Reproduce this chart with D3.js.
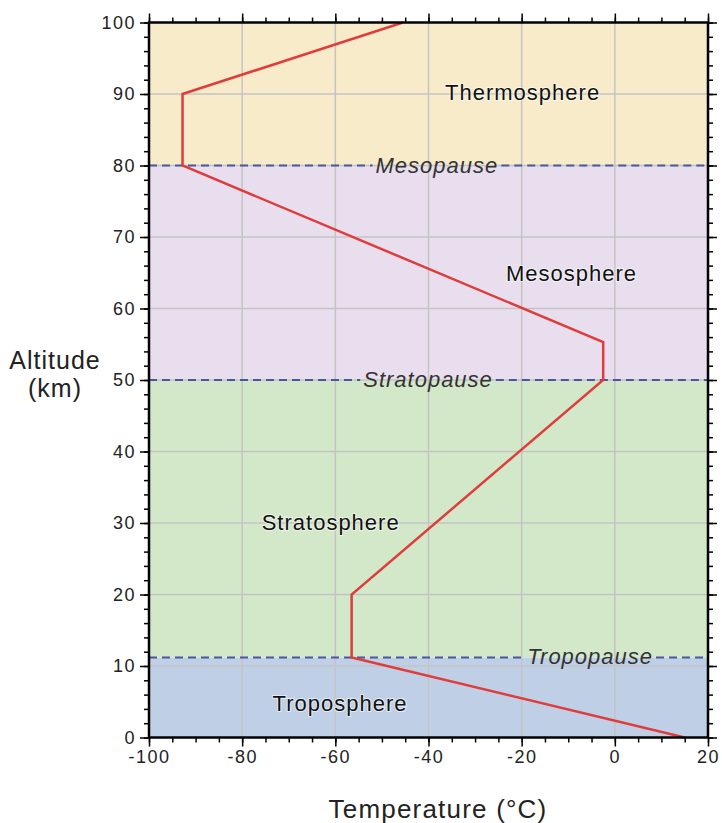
<!DOCTYPE html>
<html>
<head>
<meta charset="utf-8">
<script src="https://cdn.jsdelivr.net/npm/d3@7"></script>
<style>
  body { margin: 0; background: #fff; }
  text { font-family: "Liberation Sans", Arial, sans-serif; }
</style>
</head>
<body>
<svg width="722" height="823"></svg>
<script>
// layers
const layerNames = ['Troposphere', 'Stratosphere', 'Mesosphere', 'Thermosphere'];
const layerBottoms = [0, 11.2, 50, 80];
const layerTops = [11.2, 50, 80, 100];
const layerColors = ['#bfd0e6', '#d3e8c9', '#e8deee', '#f8ebca'];
const layerLabelT = [-59, -61, -9.3, -19.8];
const layerLabelZ = [4.8, 30.1, 65.0, 90.3];

// boundaries
const pauseNames = ['Tropopause', 'Stratopause', 'Mesopause'];
const pauseAlt = [11.2, 50, 80];
const pauseLabelT = [-5.3, -40.1, -38.2];

// temperature profile
const profileT = [15, -56.5, -56.5, -2.5, -2.5, -92.8, -92.8, -45.5];
const profileZ = [0, 11.2, 20, 50, 55.3, 80, 90, 100];

const xTicks = [-100, -80, -60, -40, -20, 0, 20];
const yTicks = [0, 10, 20, 30, 40, 50, 60, 70, 80, 90, 100];

const svg = d3.select('svg');
const mLeft = 149, mRight = 708, mTop = 22.5, mBottom = 737.5;

const x = d3.scaleLinear().domain([-100, 20]).range([mLeft, mRight]);
const y = d3.scaleLinear().domain([0, 100]).range([mBottom, mTop]);

// background bands
svg.selectAll('rect.layer')
  .data(layerNames)
  .enter().append('rect')
    .attr('x', x(-100))
    .attr('width', x(20) - x(-100))
    .attr('y', (d, i) => y(layerTops[i]))
    .attr('height', (d, i) => y(layerBottoms[i]) - y(layerTops[i]))
    .attr('fill', (d, i) => layerColors[i]);

// grid
svg.selectAll('line.gx')
  .data(xTicks.slice(1, -1))
  .enter().append('line')
    .attr('x1', d => x(d)).attr('x2', d => x(d))
    .attr('y1', mTop).attr('y2', mBottom)
    .attr('stroke', '#c4c4c4').attr('stroke-width', 1.5);
svg.selectAll('line.gy')
  .data(yTicks.slice(1, -1))
  .enter().append('line')
    .attr('y1', d => y(d)).attr('y2', d => y(d))
    .attr('x1', mLeft).attr('x2', mRight)
    .attr('stroke', '#c4c4c4').attr('stroke-width', 1.5);

// pause labels + dashed lines with gap round the label
pauseNames.forEach(function(name, i) {
  const yy = y(pauseAlt[i]);
  const t = svg.append('text')
    .attr('x', x(pauseLabelT[i]))
    .attr('y', yy + 7)
    .attr('text-anchor', 'middle')
    .attr('font-size', 22)
    .attr('letter-spacing', 1)
    .attr('font-style', 'italic')
    .attr('fill', '#333')
    .text(name);
  const bb = t.node().getBBox();
  [[mLeft, bb.x - 3], [bb.x + bb.width + 3, mRight]].forEach(function(seg) {
    svg.insert('line', 'text')
      .attr('x1', seg[0]).attr('x2', seg[1])
      .attr('y1', yy).attr('y2', yy)
      .attr('stroke', '#4a56a0')
      .attr('stroke-width', 2)
      .attr('stroke-dasharray', '8,5');
  });
});

// layer labels
svg.selectAll('text.layer')
  .data(layerNames)
  .enter().append('text')
    .attr('x', (d, i) => x(layerLabelT[i]))
    .attr('y', (d, i) => y(layerLabelZ[i]) + 8)
    .attr('text-anchor', 'middle')
    .attr('font-size', 22)
    .attr('letter-spacing', 1)
    .attr('fill', '#111')
    .style('paint-order', 'stroke')
    .attr('stroke', 'rgba(255,255,255,0.6)')
    .attr('stroke-width', 2)
    .text(d => d);

// profile
const line = d3.line()
  .x(d => x(profileT[d]))
  .y(d => y(profileZ[d]));
svg.append('path')
  .attr('d', line(d3.range(profileT.length)))
  .attr('fill', 'none')
  .attr('stroke', '#e03c3c')
  .attr('stroke-width', 2.5)
  .attr('stroke-linejoin', 'miter');

// axes
function styleAxis(g) {
  g.select('.domain').remove();
  g.selectAll('.tick line').attr('stroke', '#000').attr('stroke-width', 1.5);
  g.selectAll('text').attr('font-size', 18).attr('fill', '#222')
    .attr('letter-spacing', 1.5)
    .style('font-family', '"Liberation Sans", Arial, sans-serif');
}
const xMinor = d3.range(-100, 21, 5);
const yMinor = d3.range(0, 101, 2);
const fmt = d => String(d);

svg.append('g').attr('transform', `translate(0,${mBottom})`)
  .call(d3.axisBottom(x).tickValues(xMinor).tickSize(5).tickFormat(''))
  .call(styleAxis);
svg.append('g').attr('transform', `translate(0,${mBottom})`)
  .call(d3.axisBottom(x).tickValues(xTicks).tickSize(9).tickPadding(4).tickFormat(fmt))
  .call(styleAxis);
svg.append('g').attr('transform', `translate(0,${mTop})`)
  .call(d3.axisTop(x).tickValues(xMinor).tickSize(5).tickFormat(''))
  .call(styleAxis);
svg.append('g').attr('transform', `translate(0,${mTop})`)
  .call(d3.axisTop(x).tickValues(xTicks).tickSize(9).tickFormat(''))
  .call(styleAxis);
svg.append('g').attr('transform', `translate(${mLeft},0)`)
  .call(d3.axisLeft(y).tickValues(yMinor).tickSize(5).tickFormat(''))
  .call(styleAxis);
svg.append('g').attr('transform', `translate(${mLeft},0)`)
  .call(d3.axisLeft(y).tickValues(yTicks).tickSize(9).tickPadding(4).tickFormat(fmt))
  .call(styleAxis);
svg.append('g').attr('transform', `translate(${mRight},0)`)
  .call(d3.axisRight(y).tickValues(yMinor).tickSize(5).tickFormat(''))
  .call(styleAxis);
svg.append('g').attr('transform', `translate(${mRight},0)`)
  .call(d3.axisRight(y).tickValues(yTicks).tickSize(9).tickFormat(''))
  .call(styleAxis);

// frame
svg.append('rect')
  .attr('x', mLeft).attr('y', mTop)
  .attr('width', mRight - mLeft).attr('height', mBottom - mTop)
  .attr('fill', 'none').attr('stroke', '#000').attr('stroke-width', 2.5);

// titles
svg.append('text')
  .attr('x', 438).attr('y', 818)
  .attr('text-anchor', 'middle')
  .attr('font-size', 26)
  .attr('letter-spacing', 1.2)
  .attr('fill', '#222')
  .text('Temperature (°C)');
const yt = svg.append('text')
  .attr('text-anchor', 'middle')
  .attr('font-size', 25)
  .attr('letter-spacing', 1)
  .attr('fill', '#222');
yt.append('tspan').attr('x', 55).attr('y', 369).text('Altitude');
yt.append('tspan').attr('x', 55).attr('y', 397).text('(km)');
</script>
</body>
</html>
